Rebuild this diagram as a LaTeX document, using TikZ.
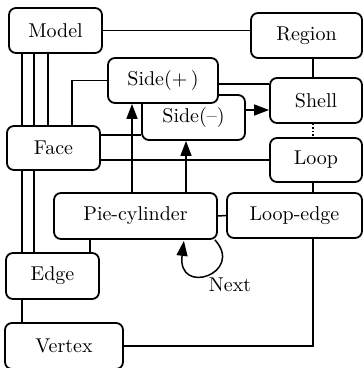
\documentclass[tikz,border=0pt]{standalone}
\usetikzlibrary{arrows.meta,calc}

\begin{document}
\begin{tikzpicture}[x=0.5pt,y=0.5pt,>={Triangle[length=7.5pt,width=5.5pt]},
  blk/.style={draw,rounded corners=3.5pt,line width=0.9pt,fill=white,minimum height=22.5pt,inner sep=0pt},
  link/.style={line width=0.75pt}]
\useasboundingbox (0,0) rectangle (363,-368);

% columns and rows the connectors run along
\coordinate (cA) at (22,0);  \coordinate (cB) at (34,0);  \coordinate (cC) at (48,0);
\coordinate (cD) at (72,0);  \coordinate (cE) at (132,0); \coordinate (cF) at (186,0);
\coordinate (cG) at (90,0);  \coordinate (cH) at (313,0);
\coordinate (rA) at (0,-135); \coordinate (rB) at (0,-84); \coordinate (rC) at (0,-110);

\node[blk,minimum width=46.5pt] (model) at (55.5,-30.5) {Model};
\node[blk,minimum width=55.5pt] (region) at (306.5,-35.5) {Region};
\node[blk,minimum width=51.5pt] (sidem) at (193.5,-117.5) {Side(--)};
\node[blk,minimum width=55pt] (sidep) at (163,-80.5) {Side(+\,)};
\node[blk,minimum width=46pt] (shell) at (316,-100.5) {Shell};
\node[blk,minimum width=46.5pt,minimum height=22pt] (face) at (53.5,-148) {Face};
\node[blk,minimum width=46pt,minimum height=22pt] (loop) at (316,-160) {Loop};
\node[blk,minimum width=81.5pt,minimum height=23pt] (pie) at (135.5,-216) {Pie-cylinder};
\node[blk,minimum width=67.5pt] (loopedge) at (294.5,-215.5) {Loop-edge};
\node[blk,minimum width=46.5pt,minimum height=23pt] (edge) at (52.5,-276) {Edge};
\node[blk,minimum width=59pt,minimum height=23pt] (vertex) at (64,-346) {Vertex};

\draw[link] (model.east) -- (model.east -| region.west);
\foreach \c in {cA,cB,cC} \draw[link] (model.south -| \c) -- (face.north -| \c);
\foreach \c in {cA,cB} \draw[link] (face.south -| \c) -- (edge.north -| \c);
\draw[link] (edge.south -| cA) -- (vertex.north -| cA);
\draw[link] (face.north -| cD) |- (sidep.west);
\draw[link] (face.east |- rA) -- (sidem.west |- rA);
\draw[link] (face.east |- loop.west) -- (loop.west);
\draw[link] (sidep.east |- rB) -- (shell.west |- rB);
\draw[link,->] (sidem.east |- rC) -- (shell.west |- rC);
\draw[link] (region.south -| cH) -- (shell.north -| cH);
\draw[link,densely dotted] (shell.south -| cH) -- (loop.north -| cH);
\draw[link] (loop.south -| cH) -- (loopedge.north -| cH);
\draw[link] (loopedge.south -| cH) |- (vertex.east);
\draw[link,->] (pie.north -| cE) -- (sidep.south -| cE);
\draw[link,->] (pie.north -| cF) -- (sidem.south -| cF);
\draw[link] (pie.east) -- (loopedge.west);
\draw[link] (pie.south -| cG) -- (edge.north -| cG);
% the Next loop on Pie-cylinder
\draw[link,->] ($(pie.south east)+(-3,0)$) .. controls +(30,-33) and +(-7,-56) .. ($(pie.south east)+(-34,-1)$);
\node (next) at (230,-285) {Next};
\end{tikzpicture}
\end{document}
